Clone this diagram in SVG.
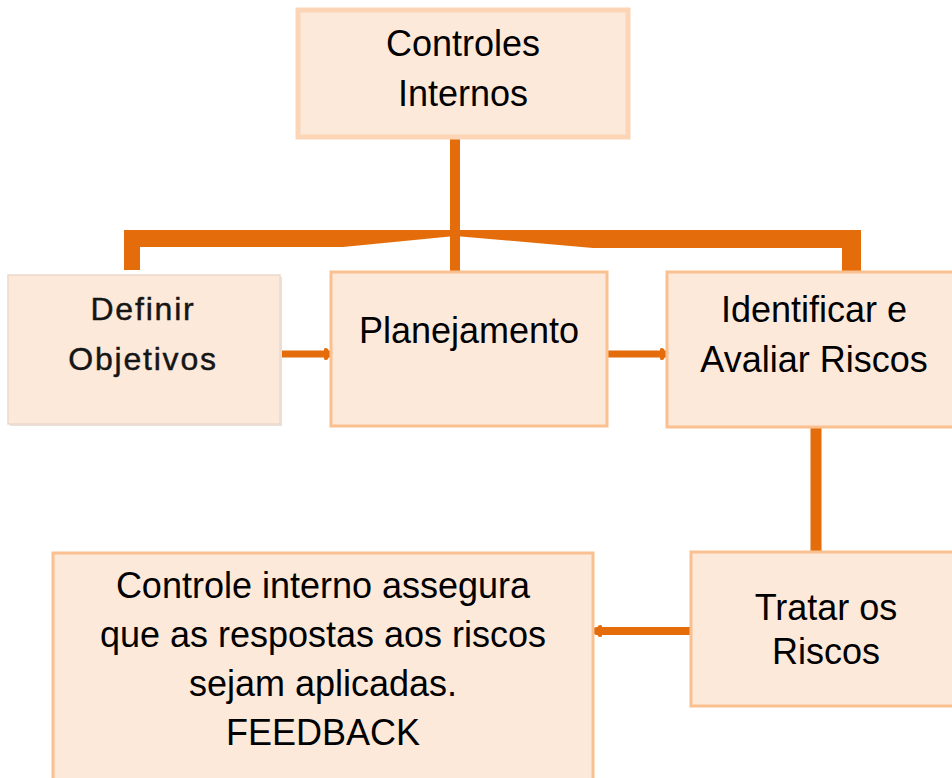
<svg xmlns="http://www.w3.org/2000/svg" width="952" height="778" viewBox="0 0 952 778">
<style>
.box{fill:#FCE9DA;stroke:#FAC08F;stroke-width:3}
.t{font-family:"Liberation Sans",Arial,sans-serif;font-size:36px;fill:#000;text-anchor:middle}
.td{font-family:"Liberation Sans",Arial,sans-serif;font-size:32px;letter-spacing:1.8px;fill:#151515;stroke:#151515;stroke-width:0.45;text-anchor:middle}
.ln{stroke:#E46C0A;fill:none;stroke-linecap:round}
</style>
<defs>
<marker id="dot" viewBox="0 0 6 14" refX="5" refY="7" markerWidth="6" markerHeight="14" markerUnits="userSpaceOnUse" orient="auto">
<path d="M0,2 Q0,1 2,1 Q5,1 5,7 Q5,13 2,13 Q0,13 0,12 Z" fill="#E46C0A"/>
</marker>
</defs>
<rect width="952" height="778" fill="#fff"/>
<g id="connectors">
<path d="M124,230 H861 V272 H842 V248 H593 L455,236 L343,247 H140 V270 H124 Z" fill="#E46C0A"/>
<line class="ln" x1="455" y1="137" x2="455" y2="272" stroke-width="10" stroke-linecap="butt"/>
<line class="ln" x1="281" y1="354" x2="329" y2="354" stroke-width="7" marker-end="url(#dot)"/>
<line class="ln" x1="609" y1="354" x2="665" y2="354" stroke-width="7" marker-end="url(#dot)"/>
<line class="ln" x1="816" y1="427" x2="816" y2="552" stroke-width="11" stroke-linecap="butt"/>
<line class="ln" x1="690" y1="631" x2="597" y2="631" stroke-width="8" stroke-linecap="butt" marker-end="url(#dot)"/>
</g>
<g id="controles-internos">
<rect x="298" y="10" width="330" height="127" fill="#FCE9DA" stroke="#FBD5B5" stroke-width="5"/>
<text class="t" x="463" y="56">Controles</text>
<text class="t" x="463" y="106">Internos</text>
</g>
<g id="definir-objetivos">
<rect x="10" y="277" width="272" height="149" fill="#E9E2DC"/>
<rect x="8" y="275" width="272" height="149" fill="#FCE9DA" stroke="#EBD9CC" stroke-width="1.5"/>
<text class="td" x="143" y="320">Definir</text>
<text class="td" x="143" y="370">Objetivos</text>
</g>
<g id="planejamento">
<rect class="box" x="331" y="272" width="276" height="154"/>
<text class="t" x="469" y="343">Planejamento</text>
</g>
<g id="identificar">
<rect class="box" x="667" y="272" width="290" height="155"/>
<text class="t" x="814" y="322">Identificar e</text>
<text class="t" x="814" y="372">Avaliar Riscos</text>
</g>
<g id="tratar">
<rect class="box" x="691" y="552" width="270" height="154"/>
<text class="t" x="826" y="620">Tratar os</text>
<text class="t" x="826" y="664">Riscos</text>
</g>
<g id="feedback">
<rect class="box" x="53" y="553" width="540" height="240"/>
<text class="t" x="323" y="598">Controle interno assegura</text>
<text class="t" x="323" y="647">que as respostas aos riscos</text>
<text class="t" x="323" y="696">sejam aplicadas.</text>
<text class="t" x="323" y="745">FEEDBACK</text>
</g>
</svg>
